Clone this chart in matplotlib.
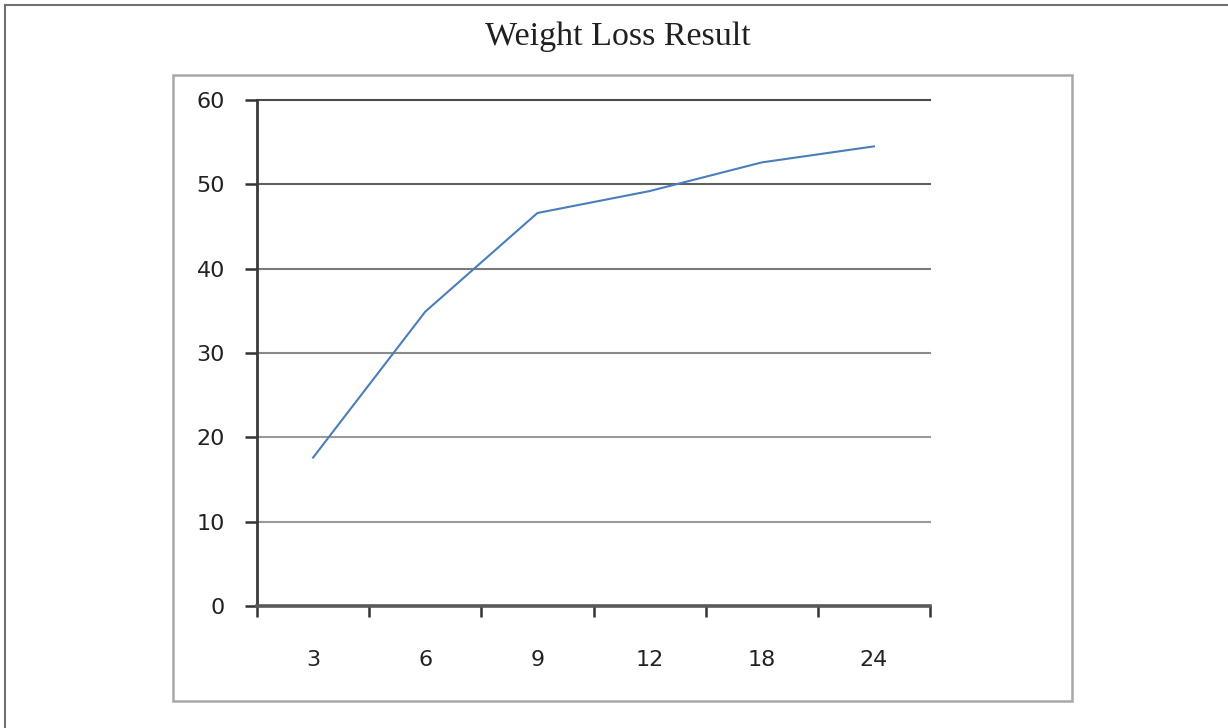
import matplotlib
matplotlib.use("Agg")
import matplotlib.pyplot as plt
from matplotlib.lines import Line2D
from matplotlib.patches import Rectangle

# Data
months = ["3", "6", "9", "12", "18", "24"]
weight_loss = [17.6, 34.9, 46.6, 49.2, 52.6, 54.5]
y_ticks = [0, 10, 20, 30, 40, 50, 60]
title = "Weight Loss Result"

W, H = 1228, 728
fig = plt.figure(figsize=(W / 100, H / 100), dpi=100)
fig.patch.set_facecolor("white")

# outer border lines (top and left)
fig.add_artist(Line2D([5 / W, 1.0], [1 - 5 / H, 1 - 5 / H], transform=fig.transFigure,
                      color="#707070", lw=1.5))
fig.add_artist(Line2D([5 / W, 5 / W], [0, 1 - 5 / H], transform=fig.transFigure,
                      color="#707070", lw=1.5))

# inner chart box
fig.add_artist(Rectangle((173 / W, 1 - 701 / H), (1072 - 173) / W, (701 - 75) / H,
                         transform=fig.transFigure, fill=False, edgecolor="#a8a8a8", lw=1.8))

fig.text(618 / W, 1 - 37 / H, title, ha="center", va="center",
         fontsize=24.5, family="Liberation Serif", color="#231f20")

ax = fig.add_axes([257 / W, 1 - 606 / H, (930 - 257) / W, (606 - 100) / H])
x = list(range(len(months)))
ax.plot(x, weight_loss, color="#4a7ebb", lw=1.5, solid_joinstyle="round")

ax.set_xlim(-0.5, len(months) - 0.5)
ax.set_ylim(0, 60)
ax.set_yticks(y_ticks)
ax.set_yticklabels([str(v) for v in y_ticks])
ax.set_xticks(x)
ax.set_xticklabels(months)
ax.set_xticks([i - 0.5 for i in range(len(months) + 1)], minor=True)

ax.tick_params(axis="x", which="major", length=0, pad=32, labelsize=16, labelcolor="#222222")
ax.tick_params(axis="x", which="minor", length=8, width=1.8, direction="out", color="#333333")
ax.tick_params(axis="y", which="major", length=9, width=1.8, direction="out", color="#333333",
               pad=14, labelsize=16, labelcolor="#222222")
for lab in ax.get_xticklabels() + ax.get_yticklabels():
    lab.set_family("DejaVu Sans")

for s in ["top", "right"]:
    ax.spines[s].set_visible(False)
ax.spines["left"].set_color("#3a3a3a")
ax.spines["left"].set_linewidth(2.0)
ax.spines["bottom"].set_color("#5a5a5a")
ax.spines["bottom"].set_linewidth(2.6)

ax.yaxis.grid(True, lw=1.5)
grid_colors = ["#5a5a5a", "#9a9a9a", "#9a9a9a", "#8a8a8a", "#7a7a7a", "#606060", "#4a4a4a"]
for gl, c in zip(ax.get_ygridlines(), grid_colors):
    gl.set_color(c)
    gl.set_clip_on(False)
ax.set_axisbelow(True)

fig.savefig("out.png", dpi=100, facecolor="white")
